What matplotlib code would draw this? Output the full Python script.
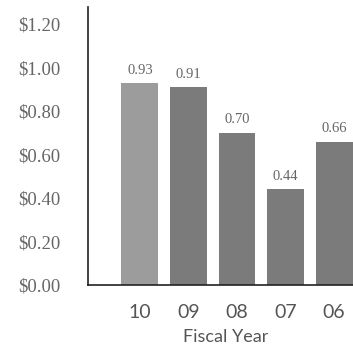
import matplotlib.pyplot as plt

years = ["10", "09", "08", "07", "06"]
dividends = [0.93, 0.91, 0.70, 0.44, 0.66]
y_ticks = [0.0, 0.2, 0.4, 0.6, 0.8, 1.0, 1.2]

fig = plt.figure(figsize=(3.53, 3.51), dpi=100)
ax = fig.add_axes([88 / 353, 66 / 351, 1 - 88 / 353, 278 / 351])

x = range(len(years))
colors = ["#9c9c9c"] + ["#7b7b7b"] * (len(years) - 1)
bars = ax.bar(x, dividends, width=0.76, color=colors)

for bar, v in zip(bars, dividends):
    ax.text(bar.get_x() + bar.get_width() / 2, v + 0.03, f"{v:.2f}",
            ha="center", va="bottom", fontsize=10.5, color="#666666",
            family="Liberation Serif")

ax.set_xlim(-1.07, 4.39)
ax.set_ylim(0, 1.28)
ax.set_yticks(y_ticks)
ax.set_yticklabels([f"${t:.2f}" for t in y_ticks], family="Liberation Serif",
                   fontsize=13.5, color="#666666")
ax.set_xticks(list(x))
ax.set_xticklabels(years, family="Lato", fontsize=14, color="#555555")
ax.tick_params(axis="y", length=0, pad=20)
ax.tick_params(axis="x", length=0, pad=14)
ax.set_xlabel("Fiscal Year", family="Lato", fontsize=13, color="#555555")
ax.xaxis.set_label_coords(0.52, -0.158)

for side in ("top", "right"):
    ax.spines[side].set_visible(False)
for side in ("left", "bottom"):
    ax.spines[side].set_color("#222222")
    ax.spines[side].set_linewidth(1.2)

fig.savefig("out.png", dpi=100)
